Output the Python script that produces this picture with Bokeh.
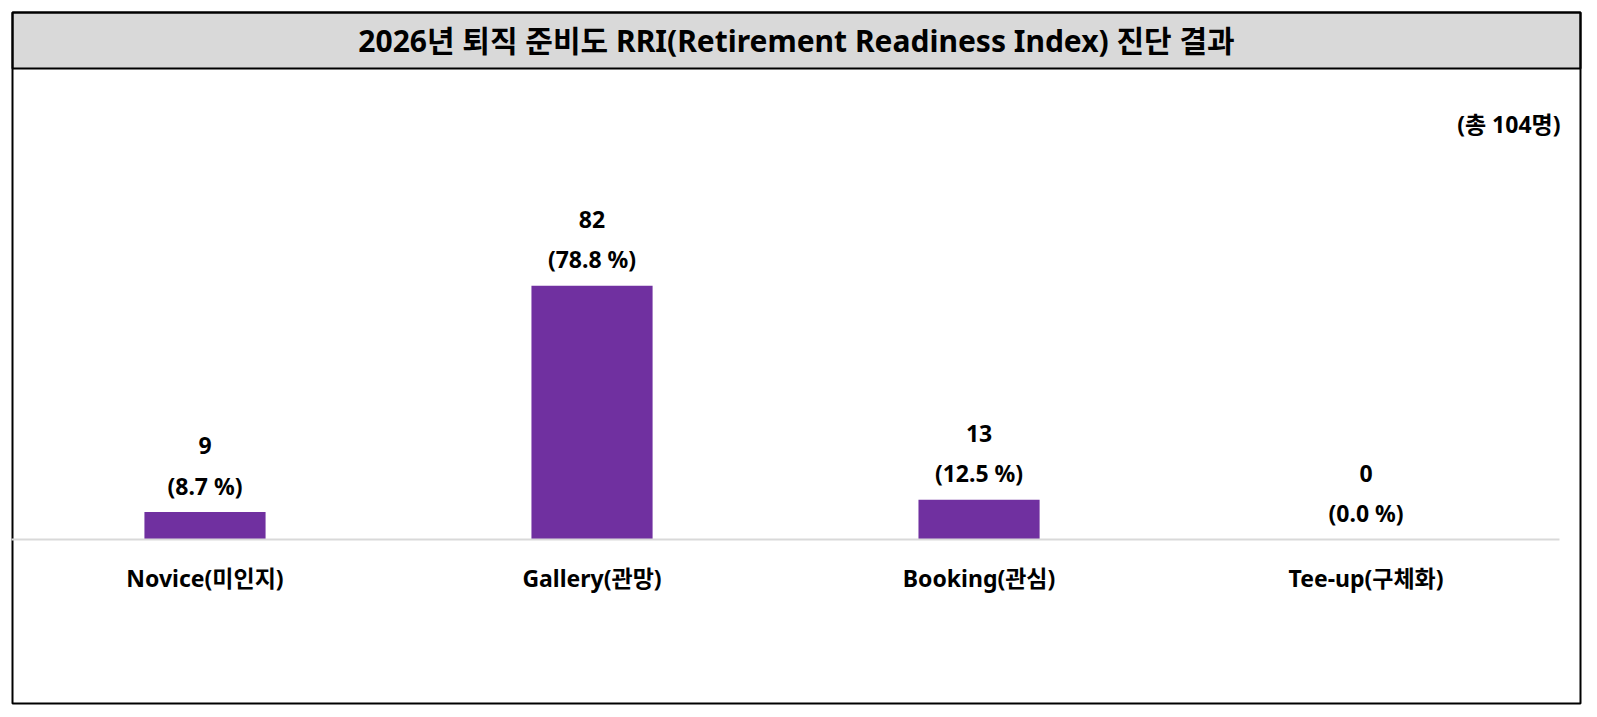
from bokeh.plotting import figure
from bokeh.models import (Range1d, BoxAnnotation, Label, ColumnDataSource,
                          LinearAxis, FixedTicker)
from bokeh.core.properties import value
from bokeh.embed import file_html
from bokeh.resources import INLINE

# ---- data ----
categories = ["Novice(미인지)", "Gallery(관망)", "Booking(관심)", "Tee-up(구체화)"]
counts = [9, 82, 13, 0]
percents = [8.7, 78.8, 12.5, 0.0]
total = 104
title_text = "2026년 퇴직 준비도 RRI(Retirement Readiness Index) 진단 결과"
note_text = f"(총 {total}명)"

W, H = 1597, 717
FONT = "'Noto Sans', 'Noto Sans CJK KR'"
BAR = "#7030A0"

idx = list(range(len(categories)))
src = ColumnDataSource(dict(
    x=idx,
    cnt=counts,
    cnt_txt=[str(c) for c in counts],
    pct_txt=[f"({p:.1f} %)" for p in percents],
))

p = figure(
    width=W, height=H,
    x_range=Range1d(-0.5284, 3.598),
    y_range=Range1d(-57.26, 174.03),
    output_backend="svg", toolbar_location=None,
    x_axis_location=None, y_axis_location=None,
    min_border_left=0, min_border_right=0,
    min_border_top=0, min_border_bottom=0,
)
p.outline_line_color = None
p.xgrid.grid_line_color = None
p.ygrid.grid_line_color = None
p.background_fill_color = "white"
p.border_fill_color = "white"

# title band and outer frame (canvas units)
p.add_layout(BoxAnnotation(left=12, right=1580, top=12, bottom=68,
                           left_units="canvas", right_units="canvas",
                           top_units="canvas", bottom_units="canvas",
                           fill_color="#d9d9d9", fill_alpha=1,
                           line_color="black", line_alpha=1, line_width=2,
                           level="underlay"))
p.add_layout(BoxAnnotation(left=12, right=1580, top=12, bottom=703,
                           left_units="canvas", right_units="canvas",
                           top_units="canvas", bottom_units="canvas",
                           fill_alpha=0, line_color="black", line_alpha=1,
                           line_width=2, level="underlay"))

p.vbar(x="x", top="cnt", width=0.313, source=src, color=BAR, line_color=None)

p.text(x="x", y="cnt", text="cnt_txt", source=src, y_offset=-66.5,
       text_align="center", text_baseline="middle",
       text_font=value(FONT), text_font_size="23px", text_font_style="bold",
       text_color="black")
p.text(x="x", y="cnt", text="pct_txt", source=src, y_offset=-26.5,
       text_align="center", text_baseline="middle",
       text_font=value(FONT), text_font_size="23px", text_font_style="bold",
       text_color="black")

ax = LinearAxis(
    ticker=FixedTicker(ticks=idx),
    major_label_overrides={i: c for i, c in zip(idx, categories)},
    fixed_location=0,
    bounds=(-0.5, 3.5),
)
ax.axis_line_color = "#d9d9d9"
ax.axis_line_width = 2
ax.major_tick_line_color = None
ax.minor_tick_line_color = None
ax.major_label_text_font = FONT
ax.major_label_text_font_size = "23px"
ax.major_label_text_font_style = "bold"
ax.major_label_text_color = "black"
ax.major_label_standoff = 16
p.add_layout(ax, "below")

p.add_layout(Label(x=796, y=40, x_units="canvas", y_units="canvas",
                   text=title_text, text_align="center", text_baseline="middle",
                   text_font=FONT, text_font_size="30px", text_font_style="bold",
                   text_color="black"))
p.add_layout(Label(x=1560, y=123, x_units="canvas", y_units="canvas",
                   text=note_text, text_align="right", text_baseline="middle",
                   text_font=FONT, text_font_size="23px", text_font_style="bold",
                   text_color="black"))

open("out.html", "w").write(file_html(p, INLINE))
